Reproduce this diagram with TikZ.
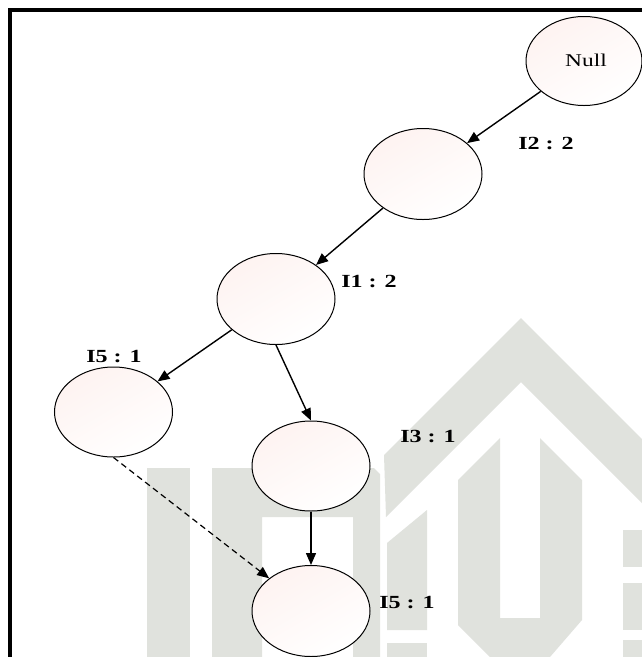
\documentclass[tikz,border=0pt]{standalone}
\usepackage{fontspec}
\setmainfont{Liberation Serif}
\usetikzlibrary{shapes.geometric,arrows.meta}
\definecolor{wm}{RGB}{224,226,221}
\definecolor{pinkish}{RGB}{254,243,241}
\tikzset{
  tnode/.style={ellipse, draw=black, line width=1pt, inner sep=0pt,
    minimum width=118pt, minimum height=91pt,
    top color=pinkish, bottom color=white, shading angle=30},
  lbl/.style={inner sep=0pt, anchor=center, font=\fontsize{18.5}{18.5}\selectfont\bfseries},
  edge/.style={line width=1.4pt, -{Triangle[length=12pt,width=10pt]}},
  dedge/.style={edge, line width=1.2pt, dash pattern=on 6pt off 4pt}
}
\newcommand{\sx}[1]{\scalebox{1.3}[1]{#1}}
\begin{document}
\begin{tikzpicture}[x=1pt,y=-1pt]
\useasboundingbox (0,0) rectangle (642,657);
\fill[white] (0,0) rectangle (642,657);
% watermark
\fill[wm] (147,468) rectangle (190,657);
\fill[wm] (212,468) -- (374,468) -- (380,474) -- (380,657) -- (353,657) -- (353,517)
  -- (262,517) -- (262,657) -- (212,657) -- cycle;
\fill[wm] (384,455) -- (521,318) -- (642,439) -- (642,503) -- (521,382) -- (386,517) -- cycle;
\fill[wm] (387,543) -- (427,510) -- (427,630) -- (387,630) -- cycle;
\fill[wm] (387,643) rectangle (427,657);
\fill[wm] (458,480) -- (500,438) -- (500,618) -- (540,618) -- (540,438) -- (582,480)
  -- (582,620) -- (550,657) -- (490,657) -- (458,625) -- cycle;
\fill[wm] (607,463) -- (642,463) -- (642,498) -- cycle;
\fill[wm] (623,530) rectangle (642,567);
\fill[wm] (623,583) rectangle (642,630);
\fill[wm] (623,640) rectangle (642,657);
% frame
\draw[line width=4pt] (10,657) -- (10,10) -- (642,10);
% nodes
\node[tnode, minimum width=116pt, minimum height=89pt] (null) at (584,61) {};
\node[inner sep=0pt, font=\fontsize{18}{18}\selectfont] (nulltxt) at (586,60) {\sx{Null}};
\node[tnode] (n2) at (423,174) {};
\node[tnode] (i1) at (276,299) {};
\node[tnode, minimum height=90pt] (i5a) at (113.5,412) {};
\node[tnode, minimum height=90pt] (i3) at (311,466) {};
\node[tnode] (i5b) at (311,611) {};
% labels
\node[lbl] (l2) at (546,144) {\sx{I2 : 2}};
\node[lbl] (l1) at (369,281) {\sx{I1 : 2}};
\node[lbl] (l5a) at (114,357) {\sx{I5 : 1}};
\node[lbl] (l3) at (428,436) {\sx{I3 : 1}};
\node[lbl] (l5b) at (407,603) {\sx{I5 : 1}};
% edges
\draw[edge] (null) -- (n2);
\draw[edge] (n2) -- (i1);
\draw[edge] (i1) -- (i5a);
\draw[edge] (i1.south) -- (i3.north);
\draw[edge] (i3.south) -- (i5b.north);
\draw[dedge] (i5a.south) -- (i5b.142);
\end{tikzpicture}
\end{document}
